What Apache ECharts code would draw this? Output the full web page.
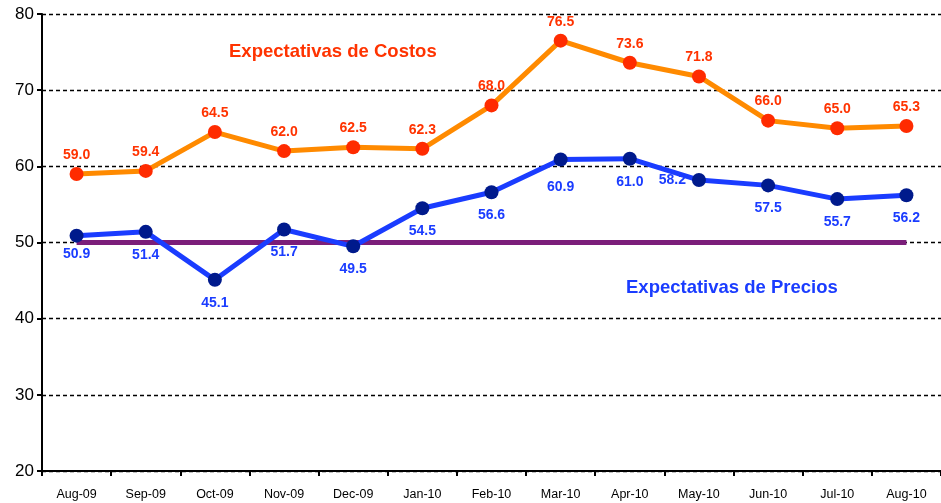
<!DOCTYPE html>
<html>
<head>
<meta charset="utf-8">
<script src="https://cdn.jsdelivr.net/npm/echarts@6/dist/echarts.min.js"></script>
<style>
  html, body { margin: 0; padding: 0; background: #fff; }
  #chart { width: 941px; height: 503px; }
</style>
</head>
<body>
<div id="chart"></div>
<script>
// datos
var months = ["Aug-09", "Sep-09", "Oct-09", "Nov-09", "Dec-09", "Jan-10", "Feb-10",
  "Mar-10", "Apr-10", "May-10", "Jun-10", "Jul-10", "Aug-10"];
var costos = [59.0, 59.4, 64.5, 62.0, 62.5, 62.3, 68.0, 76.5, 73.6, 71.8, 66.0, 65.0, 65.3];
var precios = [50.9, 51.4, 45.1, 51.7, 49.5, 54.5, 56.6, 60.9, 61.0, 58.2, 57.5, 55.7, 56.2];
var umbral = [50, 50, 50, 50, 50, 50, 50, 50, 50, 50, 50, 50, 50];

var font = "Liberation Sans, Arial, sans-serif";

var chart = echarts.init(document.getElementById("chart"));

var option = {
  animation: false,
  textStyle: { fontFamily: font },
  grid: { left: 42, right: -6, top: 14, bottom: 32 },
  xAxis: {
    type: "category",
    data: months,
    boundaryGap: true,
    axisLine: { lineStyle: { color: "#000", width: 2 } },
    axisTick: { show: true, length: 5, lineStyle: { color: "#000", width: 2 } },
    axisLabel: { color: "#000", fontSize: 12.5, margin: 17, fontFamily: font }
  },
  yAxis: {
    type: "value",
    min: 20,
    max: 80,
    interval: 10,
    axisLine: { show: true, lineStyle: { color: "#000", width: 2 } },
    axisTick: { show: true, length: 5, lineStyle: { color: "#000", width: 2 } },
    axisLabel: { color: "#000", fontSize: 17, margin: 8, fontFamily: font },
    splitLine: { lineStyle: { color: "#000", type: [4, 3], width: 1.3 } }
  },
  series: [
    {
      name: "umbral",
      type: "line",
      data: umbral,
      symbol: "none",
      z: 1,
      lineStyle: { color: "#7B1E7A", width: 5 }
    },
    {
      name: "Expectativas de Costos",
      type: "line",
      data: costos,
      symbol: "circle",
      symbolSize: 14,
      z: 3,
      lineStyle: { color: "#FF8A00", width: 5 },
      itemStyle: { color: "#FF2B00" },
      label: {
        show: true,
        position: "top",
        distance: 5,
        color: "#FF3300",
        fontWeight: "bold",
        fontSize: 14,
        fontFamily: font,
        formatter: function (p) { return p.value.toFixed(1); }
      }
    },
    {
      name: "Expectativas de Precios",
      type: "line",
      data: precios.map(function (v, i) {
        // la etiqueta de May-10 esta a la izquierda del punto
        if (i === 9) return { value: v, label: { position: "left", distance: 6 } };
        if (i === 0) return { value: v, label: { offset: [0, -5] } };
        if (i === 7) return { value: v, label: { offset: [0, 5] } };
        return v;
      }),
      symbol: "circle",
      symbolSize: 14,
      z: 4,
      lineStyle: { color: "#1A3CFF", width: 5 },
      itemStyle: { color: "#001A8C" },
      label: {
        show: true,
        position: "bottom",
        distance: 9,
        color: "#1A3CFF",
        fontWeight: "bold",
        fontSize: 14,
        fontFamily: font,
        formatter: function (p) { return p.value.toFixed(1); }
      }
    }
  ],
  graphic: [
    {
      type: "text",
      left: 229,
      top: 42,
      style: {
        text: "Expectativas de Costos",
        fill: "#FF3300",
        font: "bold 18.5px " + font
      }
    },
    {
      type: "text",
      left: 626,
      top: 278,
      style: {
        text: "Expectativas de Precios",
        fill: "#1A3CFF",
        font: "bold 18.5px " + font
      }
    }
  ]
};

chart.setOption(option);
window.onresize = function () {
  chart.resize();
};
</script>
</body>
</html>
